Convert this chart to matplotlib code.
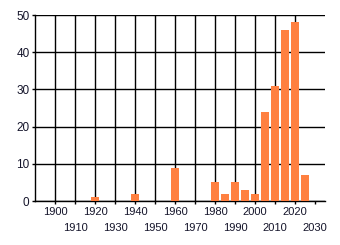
import matplotlib
matplotlib.use("Agg")
import matplotlib.pyplot as plt

years = [1920, 1940, 1960, 1980, 1985, 1990, 1995, 2000, 2005, 2010, 2015, 2020, 2025]
counts = [1, 2, 9, 5, 2, 5, 3, 2, 24, 31, 46, 48, 7]
major_years = [1900, 1920, 1940, 1960, 1980, 2000, 2020]
minor_years = [1910, 1930, 1950, 1970, 1990, 2010, 2030]
y_ticks = [0, 10, 20, 30, 40, 50]

plt.rcParams['font.family'] = ['Liberation Sans', 'DejaVu Sans']
text_color = '#14142a'

fig = plt.figure(figsize=(3.4, 2.45), dpi=100)
ax = fig.add_axes([35 / 340, 1 - 201 / 245, 290 / 340, 186 / 245])

ax.bar(years, counts, width=4, color='#ff8040', zorder=3)

ax.set_xlim(1890, 2035)
ax.set_ylim(0, 50)

ax.set_xticks(major_years)
ax.set_xticks(minor_years, minor=True)
ax.set_xticklabels([str(y) for y in major_years])
ax.set_xticklabels([str(y) for y in minor_years], minor=True)
ax.set_yticks(y_ticks)

ax.tick_params(axis='x', which='major', length=2, width=1, pad=2.5,
               labelsize=8, labelcolor=text_color)
ax.tick_params(axis='x', which='minor', length=2, width=1, pad=14,
               labelsize=8, labelcolor=text_color)
ax.tick_params(axis='y', length=2.5, width=1, pad=1.5,
               labelsize=8.5, labelcolor=text_color)

ax.grid(True, which='both', color='black', linewidth=1)
ax.set_axisbelow(True)
# no gridline at the last decade
ax.xaxis.get_minor_ticks()[-1].gridline.set_visible(False)

for s in ['top', 'right']:
    ax.spines[s].set_visible(False)
ax.spines['left'].set_linewidth(1)
ax.spines['bottom'].set_linewidth(1)

fig.savefig('out.png', dpi=100)
